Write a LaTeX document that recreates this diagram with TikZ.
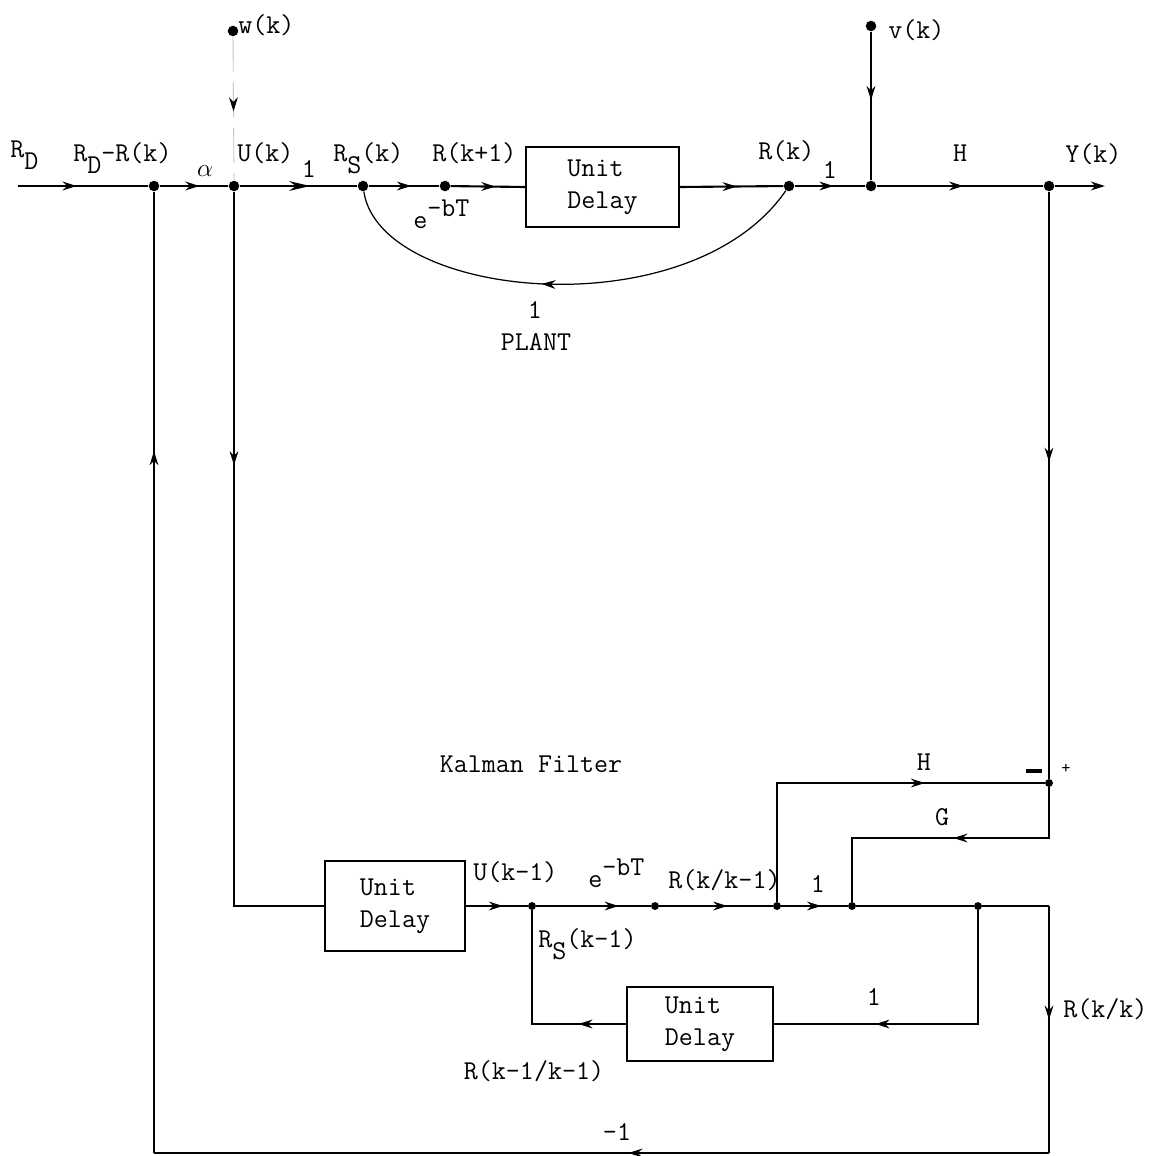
\documentclass[tikz,border=0pt]{standalone}
\usepackage{fontspec}
\usetikzlibrary{arrows.meta,decorations.markings}

\newcommand{\lo}[1]{\raisebox{-1.1ex}{#1}}
\newcommand{\hi}[1]{\raisebox{1ex}{#1}}

\tikzset{
  lbl/.style={font=\ttfamily\fontsize{15.5}{18}\selectfont, inner sep=0pt},
  dot/.style={circle, fill, inner sep=0pt, minimum size=6pt},
  sdot/.style={circle, fill, inner sep=0pt, minimum size=4.5pt},
  delaybox/.style={draw, line width=0.9pt, align=left, inner sep=2pt},
  flow/.style={postaction={decorate, decoration={markings,
      mark=at position #1 with {\arrow{Stealth[length=8pt, width=5pt, color=black]}}}}},
  flow/.default=0.55,
  bigflow/.style={postaction={decorate, decoration={markings,
      mark=at position #1 with {\arrow{Stealth[length=12pt, width=5.5pt]}}}}},
  mainline/.style={line width=1.2pt},
  kline/.style={line width=0.85pt}
}

\begin{document}
\begin{tikzpicture}[x=0.02cm, y=-0.02cm, >=Stealth, every node/.style={lbl}]
\useasboundingbox[fill=white] (0,0) rectangle (1154,1156);

% plant
\coordinate (rd) at (18,186);
\node[dot] (n1) at (154,186) {};
\node[dot] (u) at (234,186) {};
\node[dot] (rs) at (363,186) {};
\node[dot] (rk1) at (445,186) {};
\node[delaybox, minimum width=3.06cm, minimum height=1.6cm] (d0) at (602.5,187) {Unit\\Delay};
\node[dot] (rk) at (789,186) {};
\node[dot] (nv) at (871,186) {};
\node[dot] (ny) at (1049,186) {};
\coordinate (yend) at (1105,186);
\node[dot] (w) at (233,31) {};
\node[dot] (v) at (871,26) {};

\draw[mainline, flow=0.45] (rd) -- (n1);
\draw[mainline, flow=0.58] (n1) -- (u);
\draw[mainline, bigflow=0.6] (u) -- (rs);
\draw[mainline, flow=0.6] (rs) -- (rk1);
\draw[mainline, flow=0.6] (rk1) -- (d0.west);
\draw[mainline, flow=0.55] (d0.east) -- (rk);
\draw[mainline, flow=0.55] (rk) -- (nv);
\draw[mainline, flow=0.52] (nv) -- (ny);
\draw[mainline, -{Stealth[length=8pt, width=5pt]}] (ny) -- (yend);
\draw[line width=0.7pt, flow=0.56] (rk) .. controls (690,330) and (380,300) .. (rs);
\draw[gray!45, line width=0.5pt, dash pattern=on 20pt off 6pt, flow=0.52] (w) -- (u);
\draw[kline, flow=0.46] (v) -- (nv);

\node[anchor=base west] (l-rd) at (10,157) {R\lo{D}};
\node[anchor=base west] (l-err) at (73,161) {R\lo{D}-R(k)};
\node[anchor=base] (l-alpha) at (205,176) {$\alpha$};
\node[anchor=base west] (l-u) at (237,161) {U(k)};
\node[anchor=base] (l-one1) at (309,177) {1};
\node[anchor=base west] (l-rs) at (333,161) {R\lo{S}(k)};
\node[anchor=base west] (l-rk1) at (432,161) {R(k+1)};
\node[anchor=base west] (l-ebt) at (413,228) {e\hi{-bT}};
\node[anchor=base west] (l-rk) at (758,159) {R(k)};
\node[anchor=base] (l-one2) at (830,178) {1};
\node[anchor=base] (l-h) at (960,161) {H};
\node[anchor=base west] (l-y) at (1065,162) {Y(k)};
\node[anchor=base west] (l-v) at (888,38) {v(k)};
\node[anchor=base west] (l-w) at (238,33) {w(k)};
\node[anchor=base] (l-one3) at (535,318) {1};
\node[anchor=base] (l-plant) at (536,350) {PLANT};

% Kalman filter
\node[delaybox, minimum width=2.8cm, minimum height=1.8cm] (d1) at (395,906) {Unit\\Delay};
\node[sdot] (rs1) at (532,906) {};
\node[sdot] (eb) at (655,906) {};
\node[sdot] (rkk1) at (777,906) {};
\node[sdot] (gj) at (852,906) {};
\node[sdot] (rkk) at (978,906) {};
\node[sdot] (plus) at (1049,783) {};
\coordinate (kc) at (1049,906);
\coordinate (gc) at (1049,838);
\node[delaybox, minimum width=2.92cm, minimum height=1.48cm] (d2) at (700,1024) {Unit\\Delay};
\coordinate (rb) at (1049,1153);
\coordinate (lb) at (154,1153);

\draw[kline, flow=0.34] (u) |- (d1.west);
\draw[kline, flow=0.46] (ny) -- (plus);
\draw[kline, flow=0.6] (d1.east) -- (rs1);
\draw[kline, flow=0.72] (rs1) -- (eb);
\draw[kline, flow=0.6] (eb) -- (rkk1);
\draw[kline, flow=0.6] (rkk1) -- (gj);
\draw[kline] (gj) -- (rkk) -- (kc);
\draw[kline, flow=0.69] (rkk1) |- (plus);
\draw[kline, flow=0.47] (plus) -- (gc) -| (gj);
\draw[kline, flow=0.68] (rkk) |- (d2.east);
\draw[kline, flow=0.23] (d2.west) -| (rs1);
\draw[kline, flow=0.46] (kc) -- (rb);
\draw[kline, flow=0.47] (rb) -- (lb);
\draw[kline, flow=0.73] (lb) -- (n1);

\node[anchor=base] (l-kf) at (531,772) {Kalman Filter};
\node[anchor=base] (l-h2) at (924,770) {H};
\node (l-minus) at (1034,771) {\rule{9pt}{1.8pt}};
\node[font=\ttfamily\fontsize{10}{11}\selectfont] (l-plus) at (1066,769) {+};
\node[anchor=base] (l-g) at (942,825) {G};
\node[anchor=base west] (l-u1) at (473,880) {U(k-1)};
\node[anchor=base west] (l-ebt2) at (588,887) {e\hi{-bT}};
\node[anchor=base west] (l-rkk1) at (668,888) {R(k/k-1)};
\node[anchor=base] (l-one4) at (818,892) {1};
\node[anchor=base west] (l-rs1) at (538,947) {R\lo{S}(k-1)};
\node[anchor=base] (l-one5) at (874,1005) {1};
\node[anchor=base west] (l-rkk) at (1063,1017) {R(k/k)};
\node[anchor=base] (l-rkk0) at (534,1079) {R(k-1/k-1)};
\node[anchor=base] (l-neg) at (617,1140) {-1};
\end{tikzpicture}
\end{document}
